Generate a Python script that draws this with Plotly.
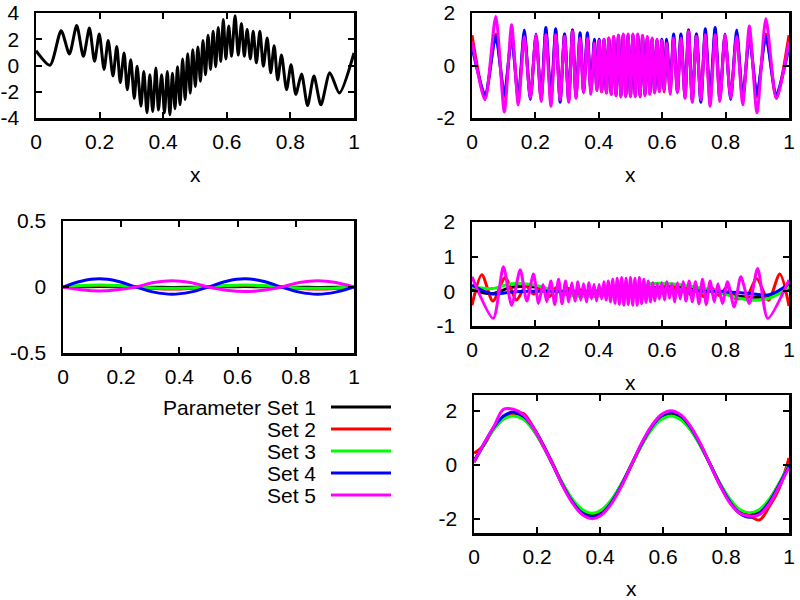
import plotly.graph_objects as go

# ---------------- data ----------------
# Panel A (top-left): parameter set 1 only
xa = [0.000, 0.044, 0.079, 0.105, 0.128, 0.149, 0.168, 0.184, 0.199, 0.214, 0.227, 0.242,
      0.254, 0.265, 0.277, 0.287, 0.298, 0.309, 0.318, 0.330, 0.339, 0.349, 0.358, 0.367,
      0.377, 0.385, 0.395, 0.404, 0.413, 0.421, 0.429, 0.437, 0.445, 0.453, 0.461, 0.469,
      0.477, 0.485, 0.493, 0.501, 0.509, 0.517, 0.525, 0.533, 0.541, 0.549, 0.557, 0.565,
      0.573, 0.581, 0.589, 0.597, 0.606, 0.615, 0.626, 0.636, 0.646, 0.655, 0.664, 0.674,
      0.683, 0.693, 0.704, 0.715, 0.727, 0.738, 0.749, 0.760, 0.772, 0.788, 0.802, 0.817,
      0.835, 0.854, 0.874, 0.896, 0.924, 0.954, 1.000]
ya = [1.13, 0.02, 2.65, 0.88, 3.05, 0.70, 2.85, 0.32, 2.40, -0.30, 1.90, -0.80,
      1.45, -1.30, 0.95, -1.85, 0.44, -2.50, -0.06, -3.10, -0.45, -3.60, -0.70, -3.50,
      -0.20, -3.40, -0.70, -3.60, -0.45, -3.75, -0.60, -3.30, -0.10, -3.00, 0.50, -2.60,
      0.90, -2.10, 1.20, -1.60, 1.40, -1.20, 1.90, -0.70, 2.30, -0.30, 2.60, -0.10,
      2.90, 0.30, 3.50, 0.50, 3.00, 0.70, 3.80, 0.80, 3.20, 0.70, 2.75, 0.50,
      2.60, 0.20, 2.60, -0.05, 2.10, -0.55, 1.50, -1.10, 0.80, -1.85, 0.06, -2.20,
      -0.65, -3.05, -0.80, -3.00, -0.55, -2.10, 0.95]

# Panel B (top-right): sets 2, 4, 5 visible
xb = [0.000, 0.041, 0.075, 0.102, 0.125, 0.146, 0.165, 0.184, 0.202, 0.218, 0.233, 0.249,
      0.264, 0.278, 0.292, 0.305, 0.317, 0.328, 0.341, 0.352, 0.364, 0.375, 0.386,
      0.3936, 0.4012, 0.4088, 0.4164, 0.4240, 0.4316, 0.4392, 0.4468, 0.4544, 0.4620,
      0.4696, 0.4772, 0.4848, 0.4924, 0.5000, 0.5076, 0.5152, 0.5228, 0.5304, 0.5380,
      0.5456, 0.5532, 0.5608, 0.5684, 0.5760, 0.5836, 0.5912, 0.5988, 0.6064,
      0.614, 0.625, 0.636, 0.648, 0.659, 0.672, 0.683, 0.695, 0.708, 0.722, 0.736, 0.751,
      0.767, 0.782, 0.798, 0.816, 0.835, 0.854, 0.875, 0.899, 0.927, 0.960, 1.000]
yb_set5 = [0.92, -1.30, 1.87, -1.77, 1.55, -1.50, 1.10, -1.25, 1.17, -1.37, 1.17, -1.55,
           1.17, -1.30, 1.10, -1.40, 1.30, -1.25, 1.05, -1.05, 1.05, -1.10, 0.85,
           -0.95, 0.95, -1.00, 1.00, -1.05, 1.05, -1.10, 1.10, -1.15, 1.15,
           -1.20, 1.20, -1.20, 1.20, -1.20, 1.20, -1.20, 1.20, -1.20, 1.15,
           -1.15, 1.10, -1.10, 1.05, -1.05, 1.00, -1.00, 0.95, -0.95,
           0.85, -1.10, 1.05, -1.05, 1.05, -1.25, 1.30, -1.40, 1.10, -1.30, 1.17, -1.55,
           1.17, -1.37, 1.17, -1.25, 1.10, -1.50, 1.50, -1.80, 1.78, -1.25, 0.90]
yb_set4 = [0.70, -1.10, 1.10, -1.10, 1.05, -1.20, 1.35, -1.30, 1.20, -1.25, 1.45, -1.20,
           1.40, -1.40, 1.20, -1.30, 1.35, -1.15, 1.25, -1.00, 1.25, -0.95, 1.00,
           -0.90, 1.00, -0.95, 0.95, -1.00, 1.00, -1.05, 1.05, -1.10, 1.10,
           -1.15, 1.15, -1.15, 1.15, -1.15, 1.15, -1.15, 1.15, -1.15, 1.10,
           -1.10, 1.05, -1.05, 1.00, -1.00, 0.95, -0.95, 1.00, -0.90,
           1.00, -0.95, 1.20, -1.00, 1.20, -1.15, 1.35, -1.30, 1.20, -1.40, 1.40, -1.20,
           1.45, -1.25, 1.20, -1.30, 1.35, -1.20, 1.05, -1.10, 1.10, -1.10, 0.70]
yb_set2 = [1.15, -1.25, 1.20, -1.20, 1.15, -1.30, 1.20, -1.20, 1.10, -1.30, 1.30, -1.35,
           1.25, -1.30, 1.20, -1.35, 1.35, -1.20, 1.15, -1.00, 1.10, -1.00, 0.95,
           -0.95, 0.95, -1.00, 1.00, -1.05, 1.05, -1.10, 1.10, -1.15, 1.15,
           -1.15, 1.15, -1.15, 1.15, -1.15, 1.15, -1.15, 1.15, -1.15, 1.10,
           -1.10, 1.05, -1.05, 1.00, -1.00, 0.95, -0.95, 0.95, -1.00,
           0.95, -1.00, 1.10, -1.00, 1.15, -1.20, 1.35, -1.35, 1.20, -1.30, 1.25, -1.35,
           1.30, -1.30, 1.10, -1.20, 1.20, -1.30, 1.15, -1.20, 1.20, -1.25, 1.15]

# Panel C (middle-left)
xc = [0.0, 0.0625, 0.125, 0.1875, 0.25, 0.3125, 0.375, 0.4375, 0.5,
      0.5625, 0.625, 0.6875, 0.75, 0.8125, 0.875, 0.9375, 1.0]
yc_set1 = [0, 0.002, 0.003, 0.002, 0, -0.002, -0.003, -0.002, 0, 0.002, 0.003, 0.002, 0, -0.002, -0.003, -0.002, 0]
yc_set2 = [0, 0.007, 0.010, 0.007, 0, -0.011, -0.015, -0.011, 0, 0.007, 0.010, 0.007, 0, -0.011, -0.015, -0.011, 0]
yc_set3 = [0, 0.011, 0.015, 0.011, 0, -0.007, -0.010, -0.007, 0, 0.011, 0.015, 0.011, 0, -0.007, -0.010, -0.007, 0]
yc_set4 = [0, 0.044, 0.062, 0.044, 0, -0.039, -0.055, -0.039, 0, 0.044, 0.062, 0.044, 0, -0.039, -0.055, -0.039, 0]
yc_set5 = [0, -0.021, -0.030, -0.021, 0, 0.034, 0.048, 0.034, 0, -0.025, -0.035, -0.025, 0, 0.034, 0.048, 0.034, 0]

# Panel D (middle-right)
xd = xc
yd_set1 = [0.05, -0.07, 0.12, 0.13, 0.05, -0.08, -0.12, -0.06, 0.00, 0.10, 0.13, 0.10, 0.02, -0.10, -0.17, -0.13, 0.05]
yd_set3 = [0.13, 0.08, 0.22, 0.20, 0.05, -0.12, -0.15, -0.08, 0.00, 0.22, 0.22, 0.15, 0.05, -0.12, -0.25, -0.20, 0.13]
yd_set4 = [0.18, -0.07, -0.02, 0.00, 0.00, 0.00, 0.00, 0.00, 0.00, 0.00, 0.00, 0.00, 0.00, -0.02, -0.06, -0.10, 0.22]
xd_set2 = [0.000, 0.031, 0.066, 0.105, 0.140, 0.170, 0.195, 0.220, 0.245, 0.265, 0.285, 0.305,
           0.322, 0.340, 0.355, 0.370, 0.385, 0.400, 0.415, 0.430, 0.445, 0.460, 0.475, 0.490,
           0.505, 0.520, 0.535, 0.550, 0.565, 0.580, 0.595, 0.610, 0.625, 0.640, 0.656, 0.672,
           0.690, 0.710, 0.730, 0.755, 0.780, 0.805, 0.830, 0.866, 0.898, 0.935, 0.971, 1.000]
yd_set2 = [-0.40, 0.48, -0.28, 0.40, -0.25, 0.15, -0.08, 0.12, -0.15, 0.10, -0.08, 0.08,
           -0.10, 0.05, -0.12, 0.03, -0.10, 0.06, -0.08, 0.07, -0.07, 0.06, -0.06, 0.05,
           -0.05, 0.06, -0.06, 0.07, -0.07, 0.08, -0.06, 0.10, -0.05, 0.12, -0.08, 0.10,
           -0.10, 0.12, -0.15, 0.10, -0.12, 0.13, -0.20, -0.16, 0.37, -0.26, 0.50, -0.42]
xd_set5 = [0.000, 0.067, 0.099, 0.125, 0.152, 0.173, 0.194, 0.210, 0.224, 0.236, 0.249, 0.261,
           0.273, 0.284, 0.295, 0.305, 0.315, 0.325, 0.334, 0.343, 0.352, 0.361, 0.369, 0.377,
           0.385, 0.393, 0.401, 0.409, 0.416, 0.423, 0.430, 0.437, 0.444, 0.451, 0.458, 0.465,
           0.472, 0.479, 0.486, 0.493, 0.500, 0.507, 0.514, 0.521, 0.528, 0.535, 0.542, 0.549,
           0.556, 0.563, 0.570, 0.577, 0.584, 0.591, 0.599, 0.607, 0.615, 0.623, 0.631, 0.639,
           0.648, 0.657, 0.666, 0.675, 0.685, 0.695, 0.705, 0.716, 0.727, 0.739, 0.751, 0.764,
           0.776, 0.790, 0.806, 0.827, 0.848, 0.875, 0.901, 0.933, 1.000]
yd_set5 = [0.42, -0.78, 0.71, -0.40, 0.62, -0.28, 0.50, -0.35, 0.20, -0.30, 0.30, -0.38,
           0.35, -0.36, 0.30, -0.30, 0.25, -0.28, 0.28, -0.25, 0.22, -0.30, 0.25, -0.22,
           0.20, -0.28, 0.20, -0.22, 0.28, -0.25, 0.30, -0.30, 0.35, -0.35, 0.38, -0.38,
           0.40, -0.40, 0.38, -0.38, 0.40, -0.40, 0.38, -0.40, 0.40, -0.36, 0.35, -0.32,
           0.30, -0.30, 0.25, -0.28, 0.22, -0.22, 0.25, -0.25, 0.28, -0.20, 0.22, -0.30,
           0.25, -0.22, 0.28, -0.28, 0.30, -0.30, 0.28, -0.36, 0.35, -0.38, 0.30, -0.30,
           0.22, -0.35, 0.28, -0.45, 0.42, -0.35, 0.66, -0.78, 0.33]

# Panel E (bottom-right)
xe = [0.0, 0.03125, 0.0625, 0.09375, 0.125, 0.15625, 0.1875, 0.21875, 0.25, 0.28125, 0.3125,
      0.34375, 0.375, 0.40625, 0.4375, 0.46875, 0.5, 0.53125, 0.5625, 0.59375, 0.625,
      0.65625, 0.6875, 0.71875, 0.75, 0.78125, 0.8125, 0.84375, 0.875, 0.90625, 0.9375,
      0.96875, 1.0]
ye_set1 = [0.10, 0.75, 1.32, 1.72, 1.85, 1.72, 1.31, 0.71, 0.00, -0.71, -1.31, -1.71, -1.85, -1.71, -1.31, -0.71,
           0.00, 0.71, 1.31, 1.71, 1.85, 1.71, 1.31, 0.71, 0.00, -0.71, -1.31, -1.71, -1.85, -1.71, -1.31, -0.71, 0.00]
ye_set2 = [0.42, 0.72, 1.35, 1.75, 1.90, 1.90, 1.40, 0.75, 0.05, -0.75, -1.38, -1.80, -1.95, -1.80, -1.38, -0.75,
           0.00, 0.75, 1.38, 1.80, 1.95, 1.80, 1.38, 0.75, 0.00, -0.75, -1.38, -1.80, -1.90, -2.05, -1.55, -0.88, 0.25]
ye_set3 = [0.12, 0.74, 1.30, 1.68, 1.80, 1.68, 1.30, 0.70, 0.00, -0.70, -1.28, -1.66, -1.80, -1.66, -1.28, -0.70,
           0.00, 0.70, 1.28, 1.66, 1.80, 1.66, 1.28, 0.70, 0.00, -0.70, -1.28, -1.66, -1.78, -1.66, -1.28, -0.70, 0.00]
ye_set4 = [0.15, 0.76, 1.38, 1.80, 1.95, 1.80, 1.38, 0.75, 0.00, -0.75, -1.38, -1.80, -1.95, -1.80, -1.38, -0.75,
           0.00, 0.75, 1.38, 1.80, 1.95, 1.80, 1.38, 0.75, 0.00, -0.75, -1.38, -1.80, -1.95, -1.80, -1.38, -0.75, -0.05]
ye_set5 = [0.10, 0.78, 1.40, 2.05, 2.05, 1.85, 1.38, 0.72, 0.00, -0.78, -1.42, -1.85, -2.00, -1.85, -1.42, -0.78,
           0.00, 0.78, 1.42, 1.85, 2.00, 1.85, 1.42, 0.78, 0.00, -0.78, -1.42, -1.80, -1.90, -1.85, -1.45, -0.80, -0.10]

x_ticks = [0, 0.2, 0.4, 0.6, 0.8, 1]
x_ticklabels = ["0", "0.2", "0.4", "0.6", "0.8", "1"]
legend_labels = ["Parameter Set 1", "Set 2", "Set 3", "Set 4", "Set 5"]
colors = ["#000000", "#ff0000", "#00ff00", "#0000ff", "#ff00ff"]

# ---------------- figure ----------------
W, H = 800, 600
FONT = "Liberation Sans, Arial, Helvetica, sans-serif"
FS = 21
LW = 3

fig = go.Figure()

def add(x, y, ax, color, smooth=0.8):
    fig.add_trace(go.Scatter(x=x, y=y, mode="lines", xaxis="x" + ax, yaxis="y" + ax,
                             line=dict(color=color, width=LW, shape="spline", smoothing=smooth),
                             showlegend=False, hoverinfo="skip"))

# A
add(xa, ya, "", colors[0], 0.7)
# B
add(xb, yb_set2, "2", colors[1], 0.7)
add(xb, yb_set4, "2", colors[3], 0.7)
add(xb, yb_set5, "2", colors[4], 0.7)
# C
for yv, c in zip([yc_set1, yc_set2, yc_set3, yc_set4, yc_set5], colors):
    add(xc, yv, "3", c, 1.0)
# D
add(xd, yd_set1, "4", colors[0], 1.0)
add(xd_set2, yd_set2, "4", colors[1], 0.8)
add(xd, yd_set3, "4", colors[2], 1.0)
add(xd, yd_set4, "4", colors[3], 1.0)
add(xd_set5, yd_set5, "4", colors[4], 0.7)
# E
for yv, c in zip([ye_set1, ye_set2, ye_set3, ye_set4, ye_set5], colors):
    add(xe, yv, "5", c, 1.0)

def px_x(a, b):
    return [a / W, b / W]

def px_y(top, bottom):
    return [1 - bottom / H, 1 - top / H]

def xaxis(dom, anchor):
    return dict(domain=dom, anchor=anchor, range=[0, 1], tickvals=x_ticks, ticktext=x_ticklabels,
                showline=True, linecolor="black", linewidth=2.5, mirror="allticks",
                ticks="inside", ticklen=6, tickwidth=2, tickcolor="black",
                showgrid=False, zeroline=False, ticklabelstandoff=3, automargin=False,
                tickfont=dict(family=FONT, size=FS, color="black"))

def yaxis(dom, anchor, rng, tv):
    return dict(domain=dom, anchor=anchor, range=rng, tickvals=tv, ticktext=["%g" % v for v in tv],
                showline=True, linecolor="black", linewidth=2.5, mirror="allticks",
                ticks="inside", ticklen=6, tickwidth=2, tickcolor="black",
                showgrid=False, zeroline=False, ticklabelstandoff=10, automargin=False,
                tickfont=dict(family=FONT, size=FS, color="black"))

fig.update_layout(
    template="none",
    width=W, height=H, margin=dict(l=0, r=0, t=0, b=0, pad=0, autoexpand=False),
    paper_bgcolor="white", plot_bgcolor="white", showlegend=False,
    xaxis=xaxis(px_x(36, 354), "y"),
    yaxis=yaxis(px_y(13, 118), "x", [-4, 4], [-4, -2, 0, 2, 4]),
    xaxis2=xaxis(px_x(472, 789), "y2"),
    yaxis2=yaxis(px_y(13, 118), "x2", [-2, 2], [-2, 0, 2]),
    xaxis3=xaxis(px_x(63, 354), "y3"),
    yaxis3=yaxis(px_y(221, 353), "x3", [-0.5, 0.5], [-0.5, 0, 0.5]),
    xaxis4=xaxis(px_x(472, 789), "y4"),
    yaxis4=yaxis(px_y(222, 326), "x4", [-1, 2], [-1, 0, 1, 2]),
    xaxis5=xaxis(px_x(474, 789), "y5"),
    yaxis5=yaxis(px_y(395, 533), "x5", [-2.53, 2.58], [-2, 0, 2]),
)

# axis titles "x"
for cx, cy in [(195, 174), (630.5, 174), (630.5, 382), (631.5, 588)]:
    fig.add_annotation(x=cx / W, y=1 - cy / H, xref="paper", yref="paper", text="x",
                       showarrow=False, xanchor="center", yanchor="middle",
                       font=dict(family=FONT, size=FS, color="black"))

# key
rows = [407, 429, 451, 473, 495]
for lab, c, ry in zip(legend_labels, colors, rows):
    fig.add_annotation(x=318 / W, y=1 - ry / H, xref="paper", yref="paper", text=lab,
                       showarrow=False, xanchor="right", yanchor="middle",
                       font=dict(family=FONT, size=FS, color="black"))
    fig.add_shape(type="line", xref="paper", yref="paper", x0=331 / W, x1=391 / W,
                  y0=1 - ry / H, y1=1 - ry / H, line=dict(color=c, width=LW))

fig.write_html("out.html", config={"displayModeBar": False, "staticPlot": True},
               post_script="document.body.style.margin='0px';document.body.style.overflow='hidden';")
